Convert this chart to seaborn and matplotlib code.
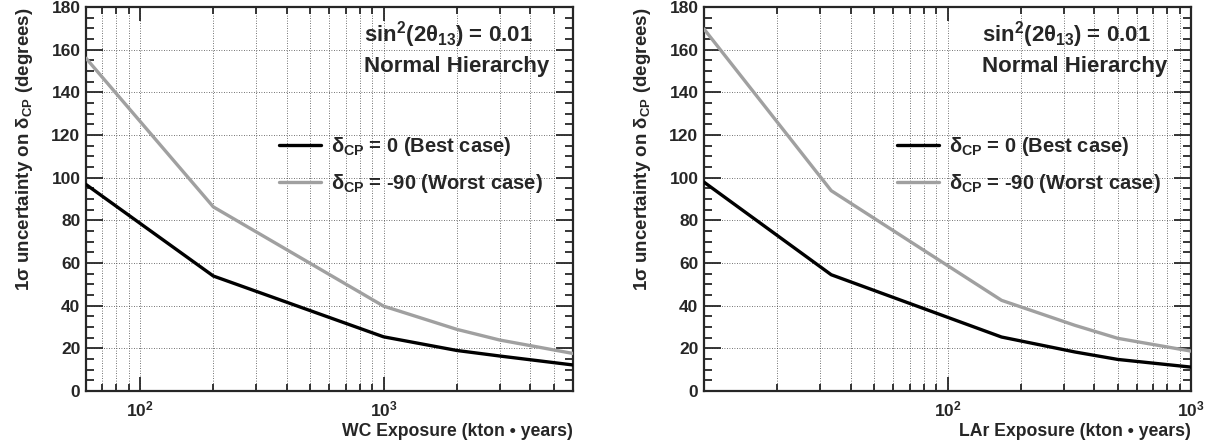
import matplotlib
matplotlib.use("Agg")
import matplotlib.pyplot as plt
import matplotlib.ticker as mticker
import seaborn as sns
import pandas as pd

# ── data ────────────────────────────────────────────────────────────────────
wc_exposure = [60, 200, 1000, 2000, 3000, 6000]
wc_best = [96.8, 53.9, 25.4, 19.0, 16.4, 12.2]
wc_worst = [156.0, 86.3, 39.8, 28.9, 23.9, 17.6]

lar_exposure = [10, 33.3, 166.7, 333.3, 500, 1000]
lar_best = [97.9, 54.5, 25.3, 18.3, 14.8, 11.2]
lar_worst = [169.7, 93.9, 42.5, 30.8, 24.7, 18.7]

case_labels = [r"$\delta_{CP}$ = 0 (Best case)", r"$\delta_{CP}$ = -90 (Worst case)"]
case_colors = ["black", "#a0a0a0"]

panels = [
    ("WC Exposure (kton • years)", wc_exposure, wc_best, wc_worst, (60, 6000)),
    ("LAr Exposure (kton • years)", lar_exposure, lar_best, lar_worst, (10, 1000)),
]

sns.set_style("ticks")
plt.rcParams["font.family"] = ["Liberation Sans", "DejaVu Sans"]
plt.rcParams["font.weight"] = "bold"
plt.rcParams["mathtext.fontset"] = "custom"
plt.rcParams["mathtext.rm"] = "Liberation Sans:bold"
plt.rcParams["mathtext.it"] = "Liberation Sans:bold"
plt.rcParams["mathtext.bf"] = "Liberation Sans:bold"
plt.rcParams["mathtext.sf"] = "Liberation Sans:bold"

fig = plt.figure(figsize=(12.17, 4.43), dpi=100)
ax_pos = [
    [86 / 1217, 52 / 443, 487 / 1217, 384 / 443],
    [704 / 1217, 52 / 443, 487 / 1217, 384 / 443],
]

for (xlabel, xs, best, worst, xlim), pos in zip(panels, ax_pos):
    ax = fig.add_axes(pos)
    df = pd.DataFrame({
        "x": xs + xs,
        "y": best + worst,
        "case": [case_labels[0]] * len(xs) + [case_labels[1]] * len(xs),
    })
    sns.lineplot(data=df, x="x", y="y", hue="case", palette=case_colors,
                 linewidth=2.4, ax=ax, zorder=3)

    ax.set_xscale("log")
    ax.set_xlim(*xlim)
    ax.set_ylim(0, 180)
    ax.yaxis.set_major_locator(mticker.MultipleLocator(20))
    ax.yaxis.set_minor_locator(mticker.MultipleLocator(5))
    majors = [t for t in (10, 100, 1000, 10000) if xlim[0] < t <= xlim[1]]
    ax.xaxis.set_major_locator(mticker.FixedLocator(majors))
    ax.xaxis.set_major_formatter(mticker.LogFormatterMathtext())
    ax.xaxis.set_minor_locator(mticker.LogLocator(base=10, subs=range(2, 10)))
    ax.xaxis.set_minor_formatter(mticker.NullFormatter())

    ax.grid(which="major", axis="y", linestyle=(0, (1, 2)), color="#444444", linewidth=0.6)
    ax.grid(which="both", axis="x", linestyle=(0, (1, 2)), color="#444444", linewidth=0.6)

    ax.tick_params(which="both", direction="in", top=True, right=True,
                   width=1.3, labelsize=12.5)
    ax.tick_params(axis="y", which="major", length=12, pad=4)
    ax.tick_params(axis="y", which="minor", length=6)
    ax.tick_params(axis="x", which="major", length=10, pad=6)
    ax.tick_params(axis="x", which="minor", length=5)
    for sp in ax.spines.values():
        sp.set_linewidth(1.6)
        sp.set_visible(True)

    ax.set_xlabel(xlabel, fontsize=12.7, fontweight="bold", loc="right", labelpad=3)
    ax.set_ylabel(r"1$\sigma$ uncertainty on $\delta_{CP}$ (degrees)", fontsize=13.5,
                  fontweight="bold", loc="top", labelpad=12)

    ax.text(0.57, 0.928, r"sin$^{2}$(2$\theta_{13}$) = 0.01", transform=ax.transAxes,
            fontsize=16, fontweight="bold", va="center", ha="left")
    ax.text(0.57, 0.846, "Normal Hierarchy", transform=ax.transAxes,
            fontsize=16, fontweight="bold", va="center", ha="left")

    ax.legend(loc="upper left", bbox_to_anchor=(0.38, 0.688), frameon=False,
              fontsize=14.5, handlelength=2.1, handletextpad=0.5, labelspacing=0.68,
              borderaxespad=0, title=None)

fig.savefig("out.png", dpi=100)
